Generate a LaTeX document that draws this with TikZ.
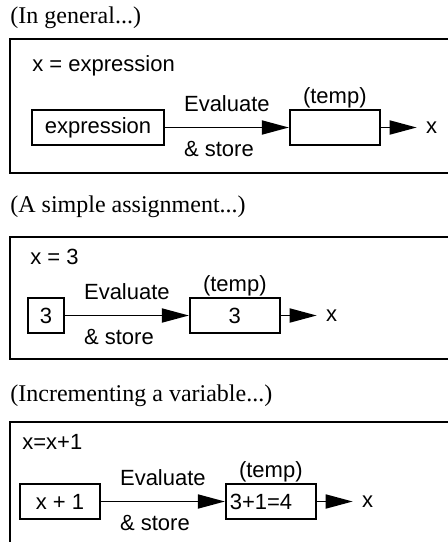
\documentclass[tikz,border=0pt]{standalone}
\usepackage{fontspec}
\setmainfont{Liberation Sans}
\newfontfamily\headfont{Liberation Serif}
\usetikzlibrary{arrows.meta,positioning,calc}
\tikzstyle{panel}=[draw, line width=0.9pt]
\tikzstyle{heading}=[font=\headfont\fontsize{12}{14}\selectfont, anchor=base west, inner sep=0pt]
\tikzstyle{valbox}=[draw, line width=0.9pt, minimum height=17.5pt, inner sep=2pt]
\tikzstyle{tempbox}=[valbox, minimum width=45pt,% the stored value
label={[inner sep=0pt, label distance=0.5pt]above:(temp)}]
\tikzstyle{txt}=[inner sep=1pt]
\tikzstyle{flow}=[-{Triangle[length=13.5pt,width=7pt]}, line width=0.9pt]

\begin{document}
\begin{tikzpicture}[x=0.5pt,y=-0.5pt,font=\fontsize{11}{13}\selectfont]
\useasboundingbox (0,0) rectangle (448,542);
\clip (0,0) rectangle (448,542);
% in general
\node[heading] (h1) at (10,23) {(In general...)};
\draw[panel] (10,39) rectangle (470,173);
\node[txt, anchor=base west] (eq1) at (30,71) {x = expression};
\node[valbox, minimum width=66pt] (e1) at (98,127.5) {expression};
\node[tempbox, right=62pt of e1] (tmp1) {};
\node[txt, inner sep=4.5pt, right=18pt of tmp1] (x1) {x};
\draw[flow] (e1) -- (tmp1);
\draw[flow] (tmp1) -- (x1);
\node[txt, anchor=base] (ev1) at ($(e1.east)!0.5!(tmp1.west)+(0,-16)$) {Evaluate};
\node[txt, anchor=base west] (st1) at ($(ev1.base west)+(0,45)$) {\& store};
% simple assignment
\node[heading] (h2) at (10,212) {(A simple assignment...)};
\draw[panel] (10,237) rectangle (470,359);
\node[txt, anchor=base west] (eq2) at (28,264) {x = 3};
\node[valbox, minimum width=18pt] (e2) at (46,315.5) {3};
\node[tempbox, right=62pt of e2] (tmp2) {3};
\node[txt, inner sep=4.5pt, right=18pt of tmp2] (x2) {x};
\draw[flow] (e2) -- (tmp2);
\draw[flow] (tmp2) -- (x2);
\node[txt, anchor=base] (ev2) at ($(e2.east)!0.5!(tmp2.west)+(0,-16)$) {Evaluate};
\node[txt, anchor=base west] (st2) at ($(ev2.base west)+(0,45)$) {\& store};
% incrementing
\node[heading] (h3) at (10,401) {(Incrementing a variable...)};
\draw[panel] (10,422) rectangle (470,570);
\node[txt, anchor=base west] (eq3) at (20,449) {x=x+1};
\node[valbox, minimum width=40pt] (e3) at (60,501.5) {x + 1};
\node[tempbox, right=62pt of e3, text width=41pt, align=left] (tmp3) {3+1=4};
\node[txt, inner sep=4.5pt, right=18pt of tmp3] (x3) {x};
\draw[flow] (e3) -- (tmp3);
\draw[flow] (tmp3) -- (x3);
\node[txt, anchor=base] (ev3) at ($(e3.east)!0.5!(tmp3.west)+(0,-16)$) {Evaluate};
\node[txt, anchor=base west] (st3) at ($(ev3.base west)+(0,45)$) {\& store};
\end{tikzpicture}
\end{document}
